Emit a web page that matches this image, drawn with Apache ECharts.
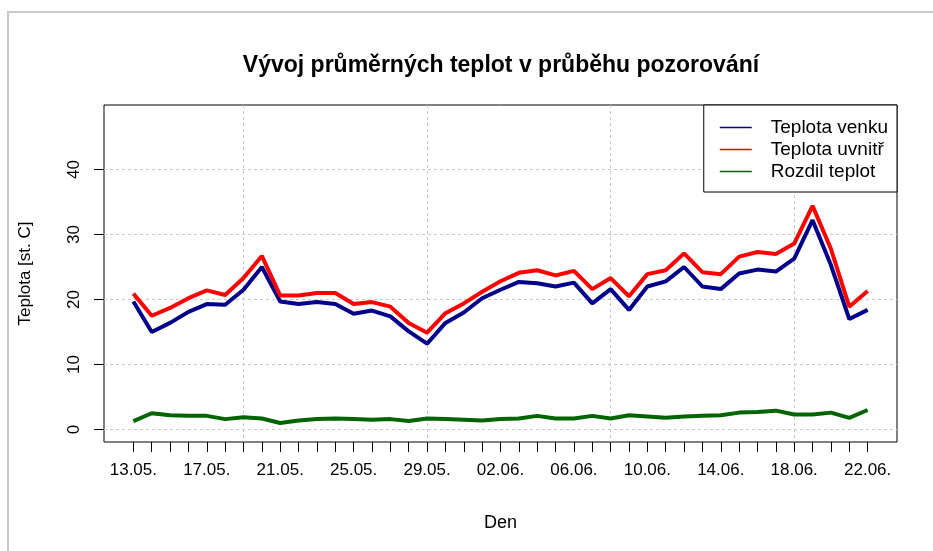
<!DOCTYPE html>
<html>
<head>
<meta charset="utf-8">
<title>Vývoj průměrných teplot</title>
<script src="https://cdn.jsdelivr.net/npm/echarts@6/dist/echarts.min.js"></script>
<style>
  html, body { margin: 0; padding: 0; background: #fff; }
  #chart { width: 933px; height: 551px; }
</style>
</head>
<body>
<div id="chart"></div>
<script>
// dny pozorovani
const dates = [
  '13.05.', '14.05.', '15.05.', '16.05.', '17.05.', '18.05.', '19.05.', '20.05.', '21.05.', '22.05.',
  '23.05.', '24.05.', '25.05.', '26.05.', '27.05.', '28.05.', '29.05.', '30.05.', '31.05.', '01.06.',
  '02.06.', '03.06.', '04.06.', '05.06.', '06.06.', '07.06.', '08.06.', '09.06.', '10.06.', '11.06.',
  '12.06.', '13.06.', '14.06.', '15.06.', '16.06.', '17.06.', '18.06.', '19.06.', '20.06.', '21.06.',
  '22.06.'
]
const tickLabels = ['13.05.', '17.05.', '21.05.', '25.05.', '29.05.', '02.06.', '06.06.', '10.06.', '14.06.', '18.06.', '22.06.']
const yTicks = [0, 10, 20, 30, 40]
const gridDays = ['19.05.', '29.05.', '08.06.', '18.06.']

const venku = [
  19.7, 15.0, 16.4, 18.1, 19.3, 19.2, 21.5, 25.0, 19.7, 19.3,
  19.6, 19.3, 17.8, 18.3, 17.4, 15.1, 13.2, 16.4, 18.0, 20.2,
  21.5, 22.7, 22.5, 22.0, 22.6, 19.4, 21.6, 18.4, 22.0, 22.8,
  25.0, 22.0, 21.6, 24.0, 24.6, 24.3, 26.3, 32.2, 25.3, 17.0,
  18.4
]
const uvnitr = [
  20.9, 17.5, 18.7, 20.2, 21.4, 20.7, 23.3, 26.7, 20.6, 20.6,
  21.0, 21.0, 19.3, 19.6, 18.9, 16.4, 14.9, 17.9, 19.4, 21.2,
  22.8, 24.1, 24.5, 23.7, 24.4, 21.6, 23.3, 20.5, 23.9, 24.5,
  27.1, 24.2, 23.9, 26.6, 27.3, 27.0, 28.6, 34.4, 27.8, 18.9,
  21.3
]
const rozdil = [
  1.3, 2.5, 2.2, 2.1, 2.1, 1.6, 1.9, 1.7, 1.0, 1.4,
  1.6, 1.7, 1.6, 1.5, 1.6, 1.3, 1.7, 1.6, 1.5, 1.4,
  1.6, 1.7, 2.1, 1.7, 1.7, 2.1, 1.7, 2.2, 2.0, 1.8,
  2.0, 2.1, 2.2, 2.6, 2.7, 2.9, 2.3, 2.3, 2.6, 1.8,
  3.0
]
const names = ['Teplota venku', 'Teplota uvnitř', 'Rozdil teplot']
const colors = ['#00008b', '#ff0000', '#006400']

const font = '"Liberation Sans", Arial, sans-serif'
const toPairs = arr => arr.map((v, i) => [i, v])
const xMin = -1.6
const xMax = dates.length - 1 + 1.6
const gridLine = { show: true, lineStyle: { color: '#c8c8c8', type: [3, 3], width: 1 } }

const makeSeries = (name, values, color) => ({
  name: name,
  type: 'line',
  data: toPairs(values),
  symbol: 'none',
  itemStyle: { color: color },
  lineStyle: { width: 4, color: color },
  z: 3
})

const chart = echarts.init(document.getElementById('chart'))

chart.setOption({
  animation: false,
  backgroundColor: '#fff',
  textStyle: { fontFamily: font },
  graphic: [{
    type: 'rect',
    shape: { x: 8, y: 12, width: 960, height: 600 },
    style: { fill: 'none', stroke: '#c8c8c8', lineWidth: 2 },
    silent: true
  }],
  title: {
    text: 'Vývoj průměrných teplot v průběhu pozorování',
    left: 496,
    top: 49,
    textAlign: 'center',
    textStyle: { fontFamily: font, fontSize: 23, fontWeight: 'bold', color: '#000' }
  },
  legend: {
    orient: 'vertical',
    right: 36,
    top: 105,
    padding: [13, 9, 11, 16],
    icon: 'rect',
    itemWidth: 32,
    itemHeight: 1.5,
    itemGap: 3,
    backgroundColor: '#fff',
    borderColor: '#000',
    borderWidth: 1,
    borderRadius: 0,
    itemStyle: { borderWidth: 0 },
    textStyle: { fontFamily: font, fontSize: 19, color: '#000', padding: [0, 0, 0, 14] },
    data: names.map((n, i) => ({
      name: n,
      itemStyle: { color: colors[i], borderColor: colors[i], borderWidth: 0 }
    }))
  },
  grid: {
    left: 104,
    top: 105,
    width: 793,
    height: 337,
    show: true,
    borderColor: '#000',
    borderWidth: 1
  },
  xAxis: [{
    type: 'value',
    min: xMin,
    max: xMax,
    position: 'bottom',
    name: 'Den',
    nameLocation: 'middle',
    nameGap: 72,
    nameTextStyle: { fontFamily: font, fontSize: 18, color: '#000' },
    axisLine: { show: false, onZero: false },
    axisTick: {
      show: true,
      length: 10,
      customValues: dates.map((d, i) => i),
      lineStyle: { color: '#000', width: 1 }
    },
    axisLabel: {
      customValues: tickLabels.map(t => dates.indexOf(t)),
      formatter: v => dates[Math.round(v)],
      margin: 20,
      fontFamily: font,
      fontSize: 17,
      color: '#000'
    },
    splitLine: { show: false }
  }, {
    type: 'value',
    min: xMin,
    max: xMax,
    position: 'top',
    axisLine: { show: false, onZero: false },
    axisTick: { show: false, customValues: gridDays.map(d => dates.indexOf(d)) },
    axisLabel: { show: false },
    splitLine: gridLine
  }],
  yAxis: {
    type: 'value',
    min: -1.92,
    max: 49.92,
    name: 'Teplota [st. C]',
    nameLocation: 'middle',
    nameRotate: 90,
    nameGap: 70,
    nameTextStyle: { fontFamily: font, fontSize: 17, color: '#000' },
    axisLine: { show: false, onZero: false },
    axisTick: {
      show: true,
      length: 10,
      customValues: yTicks,
      lineStyle: { color: '#000', width: 1 }
    },
    axisLabel: {
      customValues: yTicks,
      rotate: 90,
      margin: 21,
      fontFamily: font,
      fontSize: 17,
      color: '#000'
    },
    splitLine: gridLine
  },
  series: [
    makeSeries(names[0], venku, colors[0]),
    makeSeries(names[1], uvnitr, colors[1]),
    makeSeries(names[2], rozdil, colors[2])
  ]
})
</script>
</body>
</html>
